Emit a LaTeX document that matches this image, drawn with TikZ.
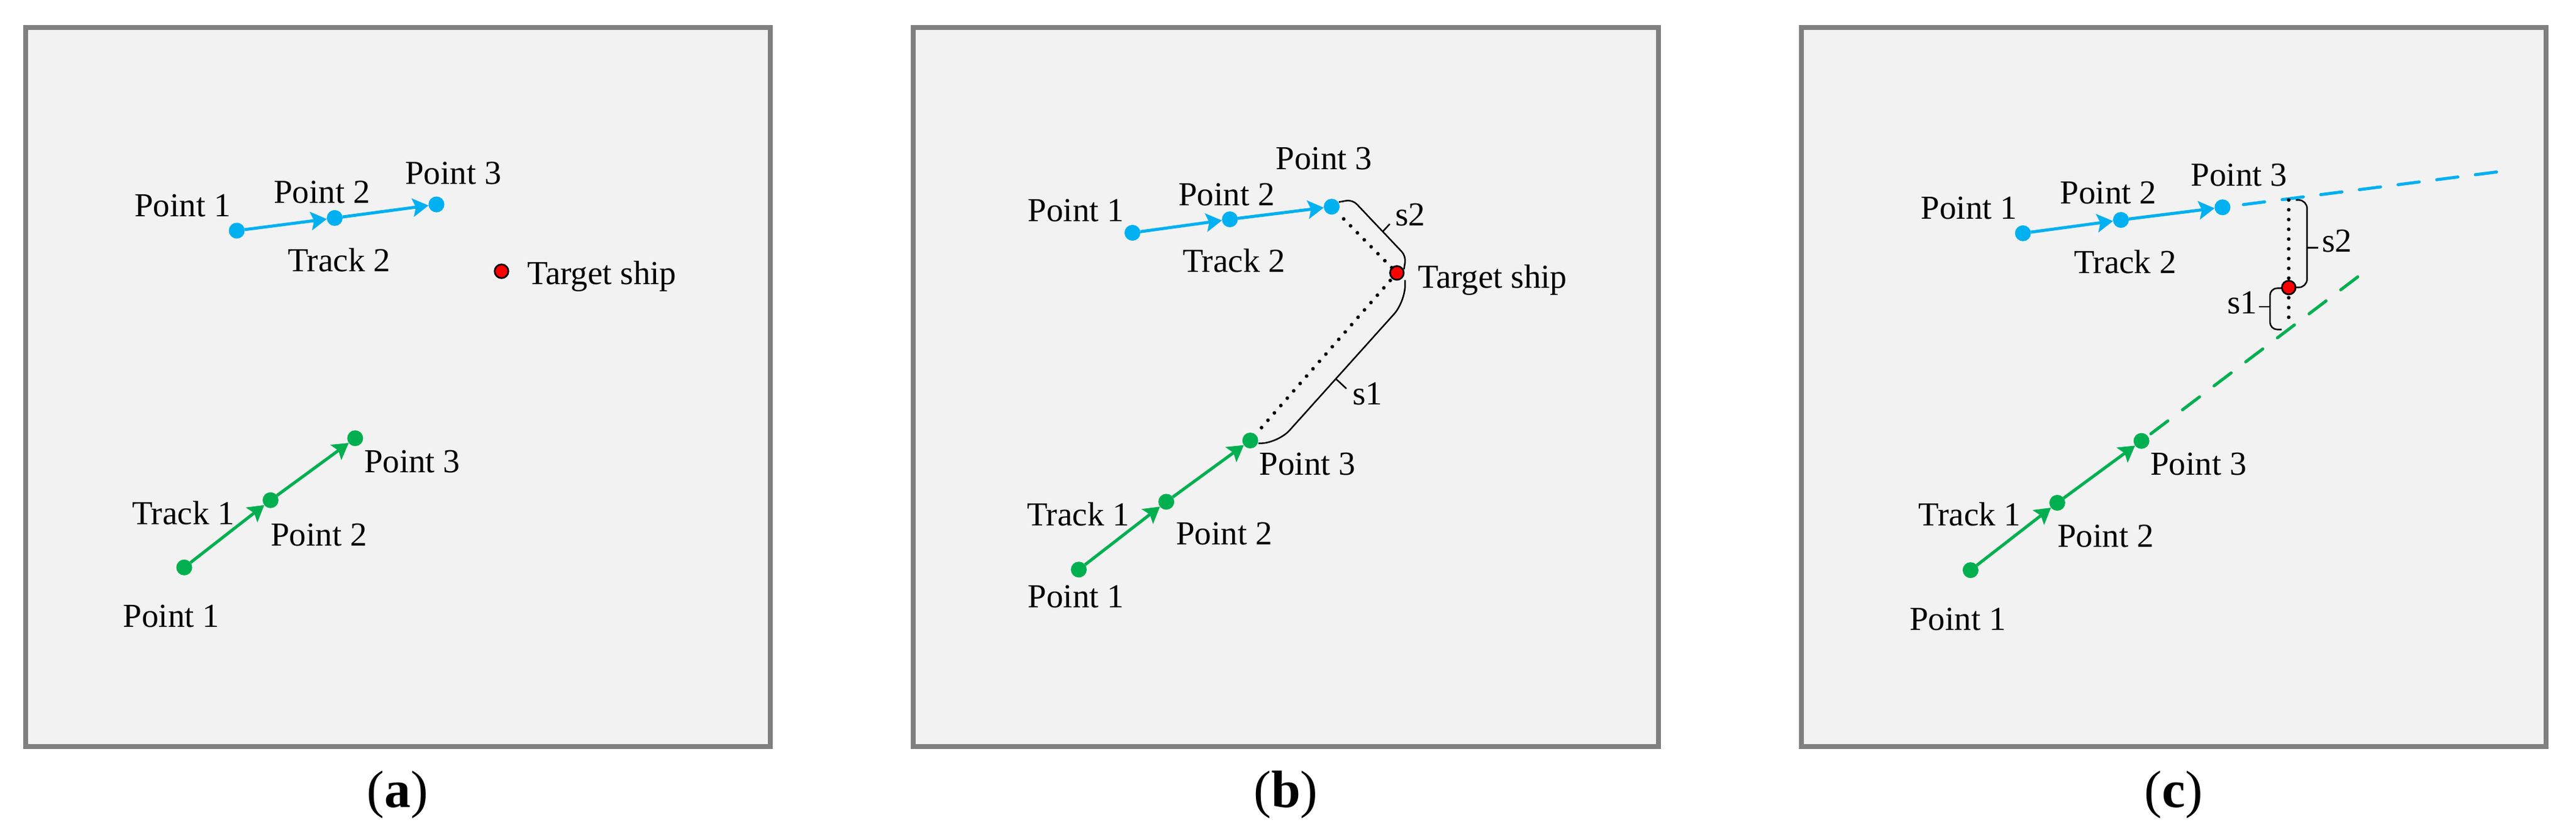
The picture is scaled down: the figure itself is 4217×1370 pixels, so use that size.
\documentclass[tikz,border=0pt]{standalone}
\usepackage{fontspec}
\setmainfont{Liberation Serif}
\usetikzlibrary{arrows.meta}
\definecolor{tblue}{HTML}{00B0F0}
\definecolor{tgreen}{HTML}{00B050}
\definecolor{tred}{HTML}{FF0000}
\definecolor{framegray}{HTML}{7F7F7F}
\definecolor{panelfill}{HTML}{F2F2F2}
\begin{document}
\begin{tikzpicture}[x=1pt,y=-1pt,
  panel/.style={draw=framegray, fill=panelfill, line width=8pt},
  bdot/.style={circle, fill=tblue, inner sep=0pt, outer sep=0pt, minimum size=26pt},
  gdot/.style={circle, fill=tgreen, inner sep=0pt, outer sep=0pt, minimum size=26pt},
  tship/.style={circle, fill=tred, draw=black, line width=2.7pt, inner sep=0pt, outer sep=0pt, minimum size=22.5pt},
  lbl/.style={anchor=base, inner sep=0pt, font=\fontsize{55}{66}\selectfont},
  lblw/.style={anchor=base west, inner sep=0pt, font=\fontsize{55}{66}\selectfont},
  caplbl/.style={anchor=base, inner sep=0pt, font=\fontsize{86}{100}\selectfont},
  barrow/.style={draw=tblue, line width=5pt, -{Stealth[length=26pt,width=30pt,inset=5pt]}},
  garrow/.style={draw=tgreen, line width=5pt, -{Stealth[length=26pt,width=30pt,inset=5pt]}},
  dotline/.style={draw=black, line width=6pt, line cap=round, dash pattern=on 0pt off 16pt, dash phase=1pt},
  bracepath/.style={draw=black, line width=2.5pt},
  bdash/.style={draw=tblue, line width=5pt, line cap=round, dash pattern=on 35pt off 28.8pt, dash phase=42.3pt},
  gdash/.style={draw=tgreen, line width=5pt, line cap=round, dash pattern=on 35pt off 30pt, dash phase=58.7pt}]
\useasboundingbox (0,0) rectangle (4217,1370);

% ---------- panels ----------
\draw[panel] (41.5,45.2) rectangle (1261,1222);
\draw[panel] (1495,45.2) rectangle (2714.5,1222);
\draw[panel] (2948.5,45.2) rectangle (4168,1222);

% ================= panel (a) =================
\node[bdot] (a-b1) at (387.6,377.5) {};
\node[bdot] (a-b2) at (547.9,356.8) {};
\node[bdot] (a-b3) at (714.5,334.6) {};
\node[tship] (a-t) at (821,444) {};
\node[gdot] (a-g1) at (301.6,928.8) {};
\node[gdot] (a-g2) at (442.9,818.7) {};
\node[gdot] (a-g3) at (581.4,717.3) {};
\draw[barrow] (a-b1) -- (a-b2);
\draw[barrow] (a-b2) -- (a-b3);
\draw[garrow] (a-g1) -- (a-g2);
\draw[garrow] (a-g2) -- (a-g3);
\node[lbl] (a-lb1) at (299,354) {Point 1};
\node[lbl] (a-lb2) at (527,332) {Point 2};
\node[lbl] (a-lb3) at (742,301.4) {Point 3};
\node[lbl] (a-tr2) at (555,444) {Track 2};
\node[lblw] (a-tl) at (863,465.7) {Target ship};
\node[lbl] (a-lg3) at (674.7,773.3) {Point 3};
\node[lbl] (a-tr1) at (300,858) {Track 1};
\node[lbl] (a-lg2) at (522,893) {Point 2};
\node[lbl] (a-lg1) at (280.5,1026.7) {Point 1};
\node[caplbl] (a-cap) at (651,1321.7) {(\textbf{a})};

% ================= panel (b) =================
\node[bdot] (b-b1) at (1853.9,381) {};
\node[bdot] (b-b2) at (2013.3,359) {};
\node[bdot] (b-b3) at (2180,338.3) {};
\node[tship] (b-t) at (2286.7,446.7) {};
\node[gdot] (b-g1) at (1766,932.3) {};
\node[gdot] (b-g2) at (1909.2,821.3) {};
\node[gdot] (b-g3) at (2046.7,721) {};
\draw[barrow] (b-b1) -- (b-b2);
\draw[barrow] (b-b2) -- (b-b3);
\draw[garrow] (b-g1) -- (b-g2);
\draw[garrow] (b-g2) -- (b-g3);
\draw[dotline] (b-b3) -- (b-t);
\draw[dotline] (b-g3) -- (b-t);
% brace s2
\draw[bracepath, rounded corners=10pt] (2191.7,330.7) -- (2214,326.7) -- (2301.7,419.3) -- (2298.3,440.7);
\draw[bracepath] (2263.3,379.3) -- (2275,366.7);
% brace s1
\draw[bracepath, rounded corners=28pt] (2300,458.3) -- (2301,493) -- (2092.5,725) -- (2060,725.7);
\draw[bracepath] (2186.7,620) -- (2204,636);
\node[lbl] (b-lb1) at (1761.5,362.6) {Point 1};
\node[lbl] (b-lb2) at (2008,336.4) {Point 2};
\node[lbl] (b-lb3) at (2167.5,277.9) {Point 3};
\node[lbl] (b-tr2) at (2020,445.6) {Track 2};
\node[lblw] (b-tl) at (2321,471.8) {Target ship};
\node[lbl] (b-s2) at (2308.5,369) {s2};
\node[lbl] (b-s1) at (2239,662.8) {s1};
\node[lbl] (b-tr1) at (1765,860.6) {Track 1};
\node[lbl] (b-lg2) at (2004,891.2) {Point 2};
\node[lbl] (b-lg3) at (2140.5,777.6) {Point 3};
\node[lbl] (b-lg1) at (1761.5,994.3) {Point 1};
\node[caplbl] (b-cap) at (2105,1321.7) {(\textbf{b})};

% ================= panel (c) =================
\node[bdot] (c-b1) at (3311.6,381.8) {};
\node[bdot] (c-b2) at (3472,360) {};
\node[bdot] (c-b3) at (3638.3,339.3) {};
\node[gdot] (c-g1) at (3225.9,933.2) {};
\node[gdot] (c-g2) at (3367.8,823) {};
\node[gdot] (c-g3) at (3505.6,721.7) {};
\coordinate (c-bend) at (4088.5,281.3);
\coordinate (c-gend) at (3861.7,451.7);
\coordinate (c-top) at (3746.7,327.3);
\coordinate (c-bot) at (3746.7,535);
\draw[bdash] (c-b3) -- (c-bend);
\draw[gdash] (c-g3) -- (c-gend);
\draw[barrow] (c-b1) -- (c-b2);
\draw[barrow] (c-b2) -- (c-b3);
\draw[garrow] (c-g1) -- (c-g2);
\draw[garrow] (c-g2) -- (c-g3);
\draw[dotline, dash phase=0pt] (c-top) -- (c-bot);
\node[tship] (c-t) at (3746.7,470.7) {};
% brace s2
\draw[bracepath, rounded corners=14pt] (3758.3,327.3) -- (3776.7,327.3) -- (3776.7,470.7) -- (3758.3,470.3);
\draw[bracepath] (3776.7,405.3) -- (3795,405.3);
% brace s1
\draw[bracepath, rounded corners=12pt] (3735,471.7) -- (3716,471.7) -- (3716,539.3) -- (3735,539.3);
\draw[bracepath] (3716,502) -- (3698.3,502);
\node[lbl] (c-lb1) at (3223.3,358.2) {Point 1};
\node[lbl] (c-lb2) at (3451.3,333.8) {Point 2};
\node[lbl] (c-lb3) at (3665.5,304) {Point 3};
\node[lbl] (c-tr2) at (3478.8,447.4) {Track 2};
\node[lbl] (c-s2) at (3826,412.3) {s2};
\node[lbl] (c-s1) at (3671,513.3) {s1};
\node[lbl] (c-tr1) at (3224.5,860.6) {Track 1};
\node[lbl] (c-lg2) at (3447,895.6) {Point 2};
\node[lbl] (c-lg3) at (3599,777.6) {Point 3};
\node[lbl] (c-lg1) at (3205,1031) {Point 1};
\node[caplbl] (c-cap) at (3558.5,1321.7) {(\textbf{c})};
\end{tikzpicture}
\end{document}
